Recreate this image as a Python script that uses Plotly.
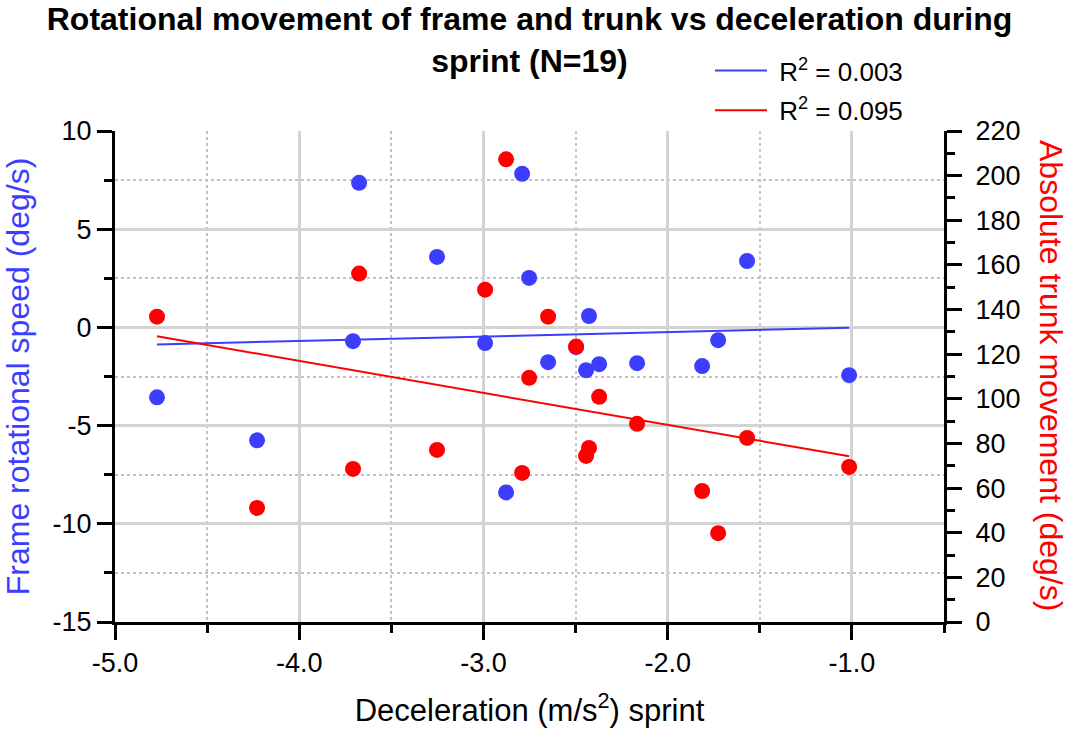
import numpy as np
import plotly.graph_objects as go

# Deceleration during sprint (m/s^2), one value per participant (N=19)
decel = [-4.772, -4.229, -3.708, -3.675, -3.252, -2.991, -2.877, -2.790, -2.752, -2.649,
         -2.497, -2.443, -2.427, -2.372, -2.166, -1.813, -1.726, -1.569, -1.015]
# Frame rotational speed (deg/s), left axis
frame_speed = [-3.56, -5.75, -0.70, 7.36, 3.59, -0.80, -8.40, 7.82, 2.52, -1.77,
               -1.00, -2.18, 0.58, -1.87, -1.82, -1.97, -0.65, 3.38, -2.43]
# Absolute trunk movement (deg/s), right axis
trunk_move = [136.8, 51.1, 68.6, 156.1, 77.1, 148.9, 207.3, 66.8, 109.4, 136.8,
              123.4, 74.4, 78.0, 100.9, 88.8, 58.7, 39.8, 82.5, 69.5]

r2_frame = "0.003"
r2_trunk = "0.095"

x_ticks = [-5.0, -4.0, -3.0, -2.0, -1.0]
x_tick_labels = ["-5.0", "-4.0", "-3.0", "-2.0", "-1.0"]
x_minor = [-4.5, -3.5, -2.5, -1.5, -0.5]
y_ticks = [-15, -10, -5, 0, 5, 10]
y_tick_labels = ["-15", "-10", "-5", "0", "5", "10"]
y_minor = [-12.5, -7.5, -2.5, 2.5, 7.5]
y2_ticks = list(range(0, 221, 20))
y2_tick_labels = [str(v) for v in y2_ticks]
y2_minor = list(range(10, 220, 20))

BLUE = "#3d3dff"
RED = "#ff0000"
FONT = "Liberation Sans, Arial, sans-serif"

x = np.array(decel)


def linear_fit(xs, ys):
    slope, intercept = np.polyfit(xs, ys, 1)
    xl = np.array([xs.min(), xs.max()])
    return xl, slope * xl + intercept


fx, fy = linear_fit(x, np.array(frame_speed))
tx, ty = linear_fit(x, np.array(trunk_move))

fig = go.Figure()
fig.add_trace(go.Scatter(x=fx, y=fy, mode="lines", line=dict(color=BLUE, width=2),
                         name=f"&nbsp;R<sup>2</sup> = {r2_frame}", legendgroup="a", yaxis="y"))
fig.add_trace(go.Scatter(x=tx, y=ty, mode="lines", line=dict(color=RED, width=2),
                         name=f"&nbsp;R<sup>2</sup> = {r2_trunk}", legendgroup="b", yaxis="y2"))
fig.add_trace(go.Scatter(x=decel, y=frame_speed, mode="markers", showlegend=False,
                         marker=dict(color=BLUE, size=16, line=dict(width=0)), yaxis="y"))
fig.add_trace(go.Scatter(x=decel, y=trunk_move, mode="markers", showlegend=False,
                         marker=dict(color=RED, size=16, line=dict(width=0)), yaxis="y2"))


def axis_style(ticklen=15):
    return dict(
        showline=True, linecolor="black", linewidth=3,
        ticks="outside", ticklen=ticklen, tickwidth=3, tickcolor="black",
        tickfont=dict(family=FONT, size=27, color="black"),
        zeroline=False, tickmode="array",
    )


def minor_style(vals, grid):
    m = dict(tickmode="array", tickvals=vals, ticks="outside", ticklen=8,
             tickwidth=3, tickcolor="black", showgrid=grid)
    if grid:
        m.update(gridcolor="#c2c2c2", gridwidth=1.5, griddash="dot")
    return m


pw = 1071 - 115 - 127
ph = 731 - 131 - 109

fig.update_layout(
    width=1071, height=731,
    margin=dict(l=115, r=127, t=131, b=109, autoexpand=False),
    paper_bgcolor="white", plot_bgcolor="white",
    font=dict(family=FONT, color="black"),
    title=dict(
        text="<b>Rotational movement of frame and trunk vs deceleration during<br>sprint (N=19)</b>",
        font=dict(family=FONT, size=32, color="black"),
        x=0.5, xref="paper", xanchor="center",
        y=1 - 30 / 731, yref="container", yanchor="top",
    ),
    xaxis=dict(
        **axis_style(15),
        range=[-5, -0.5], tickvals=x_ticks, ticktext=x_tick_labels,
        showgrid=True, gridcolor="#d3d3d3", gridwidth=3,
        minor=minor_style(x_minor, True),
        title=dict(text="Deceleration (m/s<sup>2</sup>) sprint",
                   font=dict(family=FONT, size=31, color="black"), standoff=22),
    ),
    yaxis=dict(
        **axis_style(15),
        range=[-15, 10], tickvals=y_ticks, ticktext=y_tick_labels,
        showgrid=True, gridcolor="#d3d3d3", gridwidth=3,
        minor=minor_style(y_minor, True),
        title=dict(text="Frame rotational speed (deg/s)",
                   font=dict(family=FONT, size=32, color=BLUE), standoff=14),
    ),
    yaxis2=dict(
        **axis_style(15),
        range=[0, 220], tickvals=y2_ticks, ticktext=y2_tick_labels,
        overlaying="y", side="right", showgrid=False, ticklabelstandoff=8,
        minor=minor_style(y2_minor, False),
    ),
    legend=dict(
        x=(710 - 115) / pw, xanchor="left", xref="paper",
        y=1 + (131 - 47) / ph, yanchor="top", yref="paper",
        font=dict(family=FONT, size=26, color="black"),
        bgcolor="rgba(0,0,0,0)", tracegroupgap=3, itemwidth=52,
    ),
    annotations=[dict(
        text="Absolute trunk movement (deg/s)", textangle=90,
        x=(1051 - 115) / pw, y=(731 - 109 - 375) / ph, xref="paper", yref="paper",
        showarrow=False, font=dict(family=FONT, size=32, color=RED),
        xanchor="center", yanchor="middle",
    )],
    showlegend=True,
)

fig.write_html("out.html")
